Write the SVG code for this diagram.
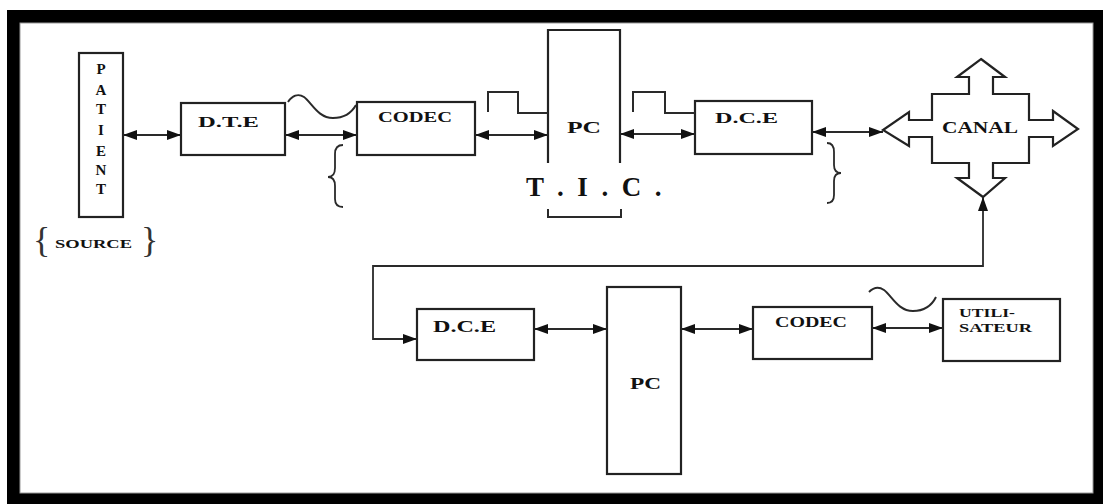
<svg xmlns="http://www.w3.org/2000/svg" width="1103" height="504" viewBox="0 0 1103 504">
<style>
.box{fill:#fff;stroke:#222;stroke-width:2.2}
.ln{fill:none;stroke:#2a2a2a;stroke-width:1.8}
.sig{fill:none;stroke:#2a2a2a;stroke-width:2}
.lbl{font-family:"Liberation Serif","Times New Roman",serif;font-weight:bold;fill:#111}
</style>
<defs>
<marker id="ah" viewBox="0 0 14 10" refX="14" refY="5" markerWidth="14" markerHeight="10" markerUnits="userSpaceOnUse" orient="auto-start-reverse">
<path d="M0,0 L14,5 L0,10 z" fill="#111"/>
</marker>
</defs>
<rect x="0" y="0" width="1103" height="504" fill="#fff"/>
<rect x="7" y="10" width="1096" height="494" fill="#000"/>
<rect x="20" y="23" width="1073" height="470" fill="#fff" stroke="#999" stroke-width="1"/>

<g id="patient">
<rect class="box" x="79" y="53" width="44" height="164"/>
<text class="lbl" font-size="15" text-anchor="middle">
<tspan x="101" y="74">P</tspan><tspan x="101" y="95">A</tspan><tspan x="101" y="114">T</tspan><tspan x="101" y="135">I</tspan><tspan x="101" y="156">E</tspan><tspan x="101" y="175">N</tspan><tspan x="101" y="194">T</tspan>
</text>
</g>
<g id="source">
<text class="lbl" y="248"><tspan x="33" y="252" font-size="36" font-weight="normal" fill="#333">{</tspan><tspan x="55" y="248" font-size="13" textLength="77" lengthAdjust="spacingAndGlyphs">SOURCE</tspan><tspan x="141" y="252" font-size="36" font-weight="normal" fill="#333">}</tspan></text>
</g>
<g id="dte">
<rect class="box" x="181" y="103" width="104" height="52"/>
<text class="lbl" x="198" y="127" font-size="15" textLength="61" lengthAdjust="spacingAndGlyphs">D.T.E</text>
</g>
<g id="codec1">
<rect class="box" x="357" y="102" width="118" height="53"/>
<text class="lbl" x="378" y="122" font-size="14" textLength="74" lengthAdjust="spacingAndGlyphs">CODEC</text>
</g>
<g id="pc1">
<path class="box" fill="#fff" d="M548,163 V30 H620 V163"/>
<text class="lbl" x="567" y="133" font-size="16" textLength="34" lengthAdjust="spacingAndGlyphs">PC</text>
</g>
<g id="tic">
<text class="lbl" x="526" y="196" font-size="27" letter-spacing="3.4" xml:space="preserve">T . I . C .</text>
<path class="sig" d="M548,209 V217 H621 V209"/>
</g>
<g id="dce1">
<rect class="box" x="695" y="101" width="117" height="53"/>
<text class="lbl" x="715" y="123" font-size="15" textLength="63" lengthAdjust="spacingAndGlyphs">D.C.E</text>
</g>
<g id="canal">
<path class="box" d="M981,59 L1005,77 L993,77 L993,94 L1029,94 L1029,120 L1053,120 L1053,111 L1078,129 L1053,146 L1053,137 L1029,137 L1029,163 L993,163 L993,178 L1005,178 L983,197 L957,178 L969,178 L969,163 L932,163 L932,137 L909,137 L909,146 L883,130 L909,112 L909,120 L932,120 L932,94 L969,94 L969,77 L957,77 Z"/>
<text class="lbl" x="942" y="133" font-size="16" textLength="76" lengthAdjust="spacingAndGlyphs">CANAL</text>
</g>
<g id="dce2">
<rect class="box" x="417" y="309" width="117" height="51"/>
<text class="lbl" x="433" y="332" font-size="17" textLength="63" lengthAdjust="spacingAndGlyphs">D.C.E</text>
</g>
<g id="pc2">
<rect class="box" x="607" y="287" width="74" height="187"/>
<text class="lbl" x="630" y="389" font-size="16" textLength="31" lengthAdjust="spacingAndGlyphs">PC</text>
</g>
<g id="codec2">
<rect class="box" x="753" y="307" width="119" height="52"/>
<text class="lbl" x="775" y="327" font-size="14" textLength="72" lengthAdjust="spacingAndGlyphs">CODEC</text>
</g>
<g id="utilisateur">
<rect class="box" x="943" y="299" width="117" height="62"/>
<text class="lbl" font-size="13"><tspan x="959" y="317" textLength="56" lengthAdjust="spacingAndGlyphs">UTILI-</tspan><tspan x="959" y="332" textLength="73" lengthAdjust="spacingAndGlyphs">SATEUR</tspan></text>
</g>

<g id="braces">
<path class="ln" d="M343,145 Q335,145 335,154 L335,168 Q335,177 328,177 Q335,177 335,186 L335,199 Q335,207 343,207"/>
<path class="ln" d="M827,143 Q834,143 834,152 L834,165 Q834,173 841,173 Q834,173 834,181 L834,195 Q834,203 827,203"/>
</g>

<g id="signals">
<path class="sig" d="M288,102 C292,96 298,93 304,97 C312,103 318,118 333,118 C346,118 352,112 356,105"/>
<path class="sig" d="M488,112 V92 H518 V113 H548"/>
<path class="sig" d="M633,112 V92 H665 V113 H695"/>
<path class="sig" d="M869,292 C873,288 878,286 884,290 C892,296 898,311 913,311 C926,311 932,305 936,297"/>
</g>

<g id="connectors">
<line class="ln" x1="123" y1="135" x2="181" y2="135" marker-start="url(#ah)" marker-end="url(#ah)"/>
<line class="ln" x1="285" y1="135" x2="357" y2="135" marker-start="url(#ah)" marker-end="url(#ah)"/>
<line class="ln" x1="475" y1="135" x2="548" y2="135" marker-start="url(#ah)" marker-end="url(#ah)"/>
<line class="ln" x1="620" y1="134" x2="695" y2="134" marker-start="url(#ah)" marker-end="url(#ah)"/>
<line class="ln" x1="812" y1="132" x2="883" y2="132" marker-start="url(#ah)" marker-end="url(#ah)"/>
<polyline class="ln" points="983,197 983,266 373,266 373,339 417,339" marker-start="url(#ah)" marker-end="url(#ah)"/>
<line class="ln" x1="534" y1="329" x2="607" y2="329" marker-start="url(#ah)" marker-end="url(#ah)"/>
<line class="ln" x1="681" y1="329" x2="753" y2="329" marker-start="url(#ah)" marker-end="url(#ah)"/>
<line class="ln" x1="872" y1="328" x2="943" y2="328" marker-start="url(#ah)" marker-end="url(#ah)"/>
</g>
</svg>
